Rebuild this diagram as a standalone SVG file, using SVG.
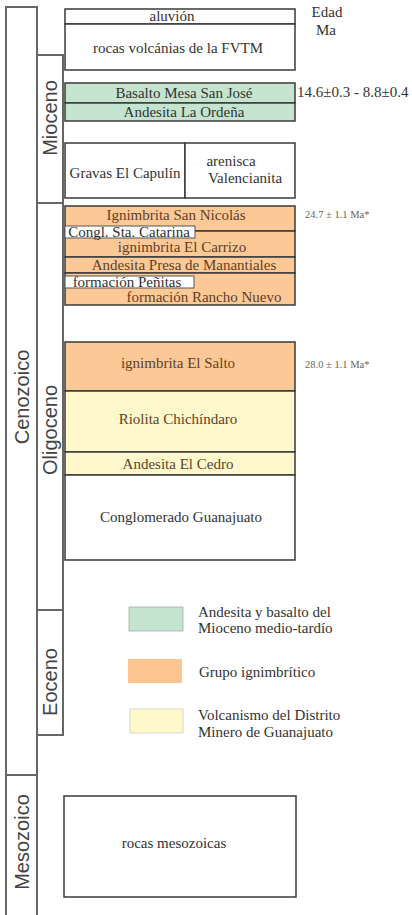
<svg xmlns="http://www.w3.org/2000/svg" width="412" height="915" viewBox="0 0 412 915">
<style>
.col{fill:#fff;stroke:#666;stroke-width:2}
.box{stroke:#3a3a3a;stroke-width:1.5}
.w{fill:#fff}
.g{fill:#c4e4d0}
.o{fill:#fcc896}
.y{fill:#fff8cc}
.inset{fill:#fff;stroke:#555;stroke-width:1}
.vt{font-family:"Liberation Sans",Arial,sans-serif;font-size:20px;fill:#444;text-anchor:middle}
.t{font-family:"Liberation Serif","Times New Roman",serif;font-size:15px;fill:#333;text-anchor:middle}
.to{font-family:"Liberation Serif","Times New Roman",serif;font-size:15px;fill:#5e4226;text-anchor:middle}
.tl{font-family:"Liberation Serif","Times New Roman",serif;font-size:15px;fill:#333}
.sm{font-family:"Liberation Serif","Times New Roman",serif;font-size:10.5px;fill:#666}
</style>
<rect width="412" height="915" fill="#fff"/>
<g id="col-cenozoico"><rect class="col" x="6" y="7" width="31" height="768"/><text class="vt" transform="translate(29,397) rotate(-90)">Cenozoico</text></g>
<g id="col-mesozoico"><rect class="col" x="6" y="775" width="31" height="150"/><text class="vt" transform="translate(29,842) rotate(-90)">Mesozoico</text></g>
<g id="col-mioceno"><rect class="col" x="37" y="55" width="26" height="148"/><text class="vt" transform="translate(57,118) rotate(-90)">Mioceno</text></g>
<g id="col-oligoceno"><rect class="col" x="37" y="203" width="26" height="407"/><text class="vt" transform="translate(57,430) rotate(-90)">Oligoceno</text></g>
<g id="col-eoceno"><rect class="col" x="37" y="610" width="26" height="125"/><text class="vt" transform="translate(57,682) rotate(-90)">Eoceno</text></g>

<g id="aluvion"><rect class="box w" x="65" y="9" width="230" height="15"/><text class="t" x="172" y="21">aluvión</text></g>
<g id="fvtm"><rect class="box w" x="65" y="24" width="230" height="46"/><text class="t" x="178" y="53">rocas volcánias de la FVTM</text></g>
<g id="basalto-mesa"><rect class="box g" x="65" y="83" width="230" height="20"/><text class="t" x="184" y="98">Basalto Mesa San José</text></g>
<g id="andesita-ordena"><rect class="box g" x="65" y="103" width="230" height="18"/><text class="t" x="184" y="117">Andesita La Ordeña</text></g>
<g id="gravas"><rect class="box w" x="65" y="143" width="120" height="55"/><text class="t" x="125" y="178">Gravas El Capulín</text></g>
<g id="arenisca"><rect class="box w" x="185" y="143" width="110" height="55"/><text class="t" x="231" y="166">arenisca</text><text class="t" x="245" y="183">Valencianita</text></g>

<g id="ign-san-nicolas"><rect class="box o" x="65" y="206" width="230" height="25"/><text class="to" x="176" y="220">Ignimbrita San Nicolás</text></g>
<g id="ign-carrizo"><rect class="box o" x="65" y="231" width="230" height="26"/><text class="to" x="182" y="252">ignimbrita El Carrizo</text></g>
<g id="congl-catarina"><rect class="inset" x="65" y="226" width="130" height="12"/><text class="t" x="129" y="237">Congl. Sta. Catarina</text></g>
<g id="andesita-presa"><rect class="box o" x="65" y="257" width="230" height="16"/><text class="to" x="184" y="270">Andesita Presa de Manantiales</text></g>
<g id="rancho-nuevo"><rect class="box o" x="65" y="273" width="230" height="32"/><text class="to" x="204" y="302">formación Rancho Nuevo</text></g>
<g id="penitas"><rect class="inset" x="65" y="276" width="129" height="12"/><text class="t" x="127" y="287">formación Peñitas</text></g>

<g id="ign-salto"><rect class="box o" x="65" y="342" width="230" height="49"/><text class="to" x="178" y="368">ignimbrita El Salto</text></g>
<g id="riolita"><rect class="box y" x="65" y="391" width="230" height="61"/><text class="to" x="178" y="424">Riolita Chichíndaro</text></g>
<g id="andesita-cedro"><rect class="box y" x="65" y="452" width="230" height="23"/><text class="to" x="178" y="469">Andesita El Cedro</text></g>
<g id="conglomerado"><rect class="box w" x="65" y="475" width="230" height="85"/><text class="t" x="181" y="522">Conglomerado Guanajuato</text></g>
<g id="mesozoicas"><rect class="box w" x="64" y="796" width="232" height="101"/><text class="t" x="174" y="848">rocas mesozoicas</text></g>

<g id="edad"><text class="t" x="327" y="17">Edad</text><text class="t" x="326" y="35">Ma</text></g>
<g id="age-mioceno"><text class="tl" x="297" y="97">14.6±0.3 - 8.8±0.4</text></g>
<g id="age-san-nicolas"><text class="sm" x="305" y="218">24.7 ± 1.1 Ma*</text></g>
<g id="age-salto"><text class="sm" x="305" y="368">28.0 ± 1.1 Ma*</text></g>

<g id="legend-green"><rect x="129" y="607" width="54" height="24" fill="#c4e4d0" stroke="#aaa" stroke-width="0.8"/><text class="tl" x="198" y="617">Andesita y basalto del</text><text class="tl" x="198" y="633">Mioceno medio-tardío</text></g>
<g id="legend-orange"><rect x="128" y="659" width="54" height="24" fill="#fcc592"/><text class="tl" x="199" y="677">Grupo ignimbrítico</text></g>
<g id="legend-yellow"><rect x="130" y="709" width="53" height="24" fill="#fff8c8" stroke="#ccc" stroke-width="0.8"/><text class="tl" x="198" y="720">Volcanismo del Distrito</text><text class="tl" x="198" y="737">Minero de Guanajuato</text></g>
</svg>
